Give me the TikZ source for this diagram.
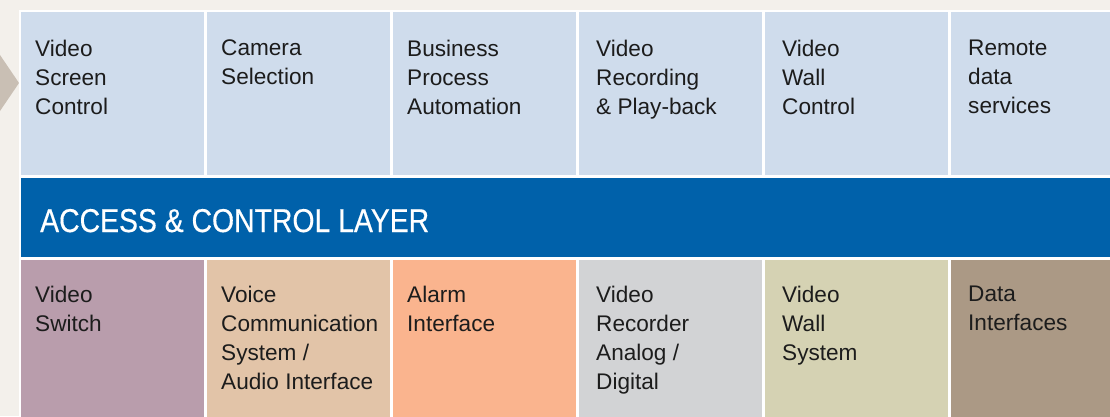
\documentclass[tikz,border=0pt]{standalone}
\usepackage{fontspec}
\setmainfont{Liberation Sans}
\newfontfamily\titlefont[FakeStretch=0.86,FakeBold=0.4]{Liberation Sans}
\definecolor{bgbeige}{HTML}{F3F0EB}
\definecolor{topblue}{HTML}{CFDCEC}
\definecolor{bandblue}{HTML}{0061AA}
\definecolor{cSwitch}{HTML}{B99DAC}
\definecolor{cVoice}{HTML}{E2C4A8}
\definecolor{cAlarm}{HTML}{FAB48E}
\definecolor{cRec}{HTML}{D2D3D5}
\definecolor{cWall}{HTML}{D5D2B3}
\definecolor{cData}{HTML}{AB9985}
\definecolor{arrowgrey}{HTML}{C9BFB4}
\definecolor{txt}{HTML}{1C1C1C}
\begin{document}
\begin{tikzpicture}[x=1pt,y=1pt,
  topcell/.style={fill=topblue,draw=none,inner sep=0pt,minimum width=183pt,minimum height=163pt,anchor=north west},
  botcell/.style={draw=none,inner sep=0pt,minimum width=183pt,minimum height=160pt,anchor=north west},
  celltext/.style={anchor=north west,inner sep=0pt,align=left,text=txt,font=\fontsize{22.6}{29}\selectfont}
]
\useasboundingbox (0,0) rectangle (1110,416);
\clip (0,0) rectangle (1110,416);
\fill[bgbeige] (0,0) rectangle (1110,416);
% arrow chevron
\fill[arrowgrey] (0,416-55) -- (19,416-83) -- (0,416-111) -- cycle;
% white frame
\fill[white] (19,0) rectangle (1110,416-10);
% top row
\foreach \i/\nm in {0/t1,1/t2,2/t3,3/t4,4/t5,5/t6}{
  \node[topcell] (\nm) at (21+186*\i,416-12) {};
}
% band
\node[fill=bandblue,inner sep=0pt,minimum width=1100pt,minimum height=79pt,anchor=north west] (band) at (21,416-178) {};
\node[anchor=base west,inner sep=0pt,text=white,font=\titlefont\fontsize{33}{33}\selectfont] (bandtxt) at (40,416-232) {ACCESS \& CONTROL LAYER};
% bottom row
\foreach \i/\nm/\col in {0/b1/cSwitch,1/b2/cVoice,2/b3/cAlarm,3/b4/cRec,4/b5/cWall,5/b6/cData}{
  \node[botcell,fill=\col] (\nm) at (21+186*\i,416-260) {};
}
% texts top
\node[celltext] (tt1) at (35,416-40) {Video\\Screen\\Control};
\node[celltext] (tt2) at (221,416-40) {Camera\\Selection};
\node[celltext] (tt3) at (407,416-40) {Business\\Process\\Automation};
\node[celltext] (tt4) at (596,416-40) {Video\\Recording\\\& Play-back};
\node[celltext] (tt5) at (782,416-40) {Video\\Wall\\Control};
\node[celltext] (tt6) at (968,416-40) {Remote\\data\\services};
% texts bottom
\node[celltext] (bt1) at (35,416-286) {Video\\Switch};
\node[celltext] (bt2) at (221,416-286) {Voice\\Communication\\System /\\Audio Interface};
\node[celltext] (bt3) at (407,416-286) {Alarm\\Interface};
\node[celltext] (bt4) at (596,416-286) {Video\\Recorder\\Analog /\\Digital};
\node[celltext] (bt5) at (782,416-286) {Video\\Wall\\System};
\node[celltext] (bt6) at (968,416-286) {Data\\Interfaces};
\end{tikzpicture}
\end{document}
